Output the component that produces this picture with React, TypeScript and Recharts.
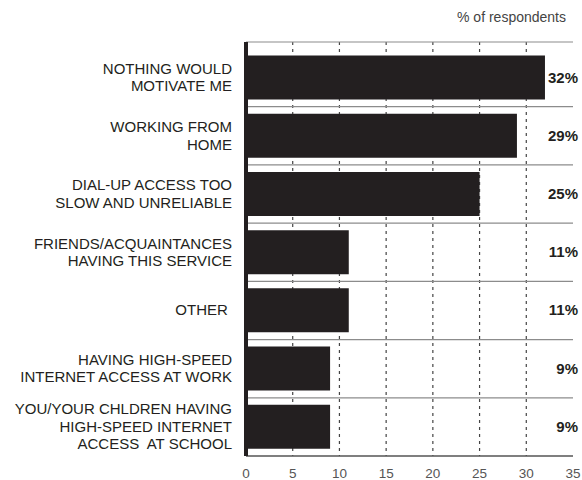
import { Bar, BarChart, CartesianGrid, XAxis, YAxis } from "recharts";

const categories = [
  "NOTHING WOULD\nMOTIVATE ME",
  "WORKING FROM\nHOME",
  "DIAL-UP ACCESS TOO\nSLOW AND UNRELIABLE",
  "FRIENDS/ACQUAINTANCES\nHAVING THIS SERVICE",
  "OTHER\u00a0",
  "HAVING HIGH-SPEED\nINTERNET ACCESS AT WORK",
  "YOU/YOUR CHLDREN HAVING\nHIGH-SPEED INTERNET\nACCESS\u00a0 AT SCHOOL",
];
const values = [32, 29, 25, 11, 11, 9, 9];
const xTicks = [0, 5, 10, 15, 20, 25, 30, 35];
const gridTicks = [5, 10, 15, 20, 25, 30];

const data = categories.map((category, i) => ({ category, value: values[i] }));

const FONT = "'Liberation Sans', Arial, Helvetica, sans-serif";
const BAR = "#231f20";
const PAD_TOP = 6.5;
const X_MAX = 35;

function CategoryTick({ x, y, payload }: any) {
  const lines = String(payload.value).split("\n");
  return (
    <text x={x} y={y} textAnchor="end" fill={BAR} fontSize={15} fontFamily={FONT}>
      {lines.map((line, i) => (
        <tspan key={i} x={x} y={y + (i - (lines.length - 1) / 2) * 17.5 + 5}>
          {line}
        </tspan>
      ))}
    </text>
  );
}

function ValueTick({ x, y, payload }: any) {
  return (
    <text x={x + 5} y={y + 5} textAnchor="end" fill={BAR} fontSize={15} fontWeight="bold" fontFamily={FONT}>
      {values[payload.index]}%
    </text>
  );
}

// separators sit on the band edges, plus the frame line on top
const separators = ({ offset }: any) => {
  const step = (offset.height - PAD_TOP) / categories.length;
  const lines = [offset.top];
  for (let i = 1; i < categories.length; i++) lines.push(offset.top + PAD_TOP + step * i);
  return lines;
};

// dotted verticals only at the inner ticks
const gridColumns = ({ xAxis, offset }: any) =>
  gridTicks.map((v) =>
    xAxis && typeof xAxis.scale === "function" ? xAxis.scale(v) : offset.left + (v / X_MAX) * offset.width
  );

export default function App() {
  return (
    <div style={{ position: "absolute", left: 0, top: 0, width: 582, height: 480, background: "#fff" }}>
      <div
        style={{
          position: "absolute",
          top: 9,
          right: 16,
          fontFamily: FONT,
          fontSize: 14,
          color: "#444",
        }}
      >
        % of respondents
      </div>
      <BarChart
        width={582}
        height={480}
        data={data}
        layout="vertical"
        margin={{ top: 42, right: 0, bottom: 0, left: 0 }}
      >
        <CartesianGrid
          horizontal={false}
          stroke="#444"
          strokeWidth={1.2}
          strokeDasharray="3 4"
          verticalCoordinatesGenerator={gridColumns}
        />
        <CartesianGrid
          vertical={false}
          stroke="#8c8c8c"
          strokeWidth={1.2}
          horizontalCoordinatesGenerator={separators}
        />
        <XAxis
          type="number"
          domain={[0, X_MAX]}
          ticks={xTicks}
          interval={0}
          height={24}
          tickLine={false}
          tickSize={0}
          tickMargin={12}
          axisLine={{ stroke: "#555", strokeWidth: 1.5 }}
          tick={{ fill: "#555", fontSize: 13.5, fontFamily: FONT }}
        />
        <YAxis
          type="category"
          dataKey="category"
          width={246}
          padding={{ top: PAD_TOP, bottom: 0 }}
          tickLine={false}
          tickSize={0}
          tickMargin={14}
          interval={0}
          axisLine={{ stroke: BAR, strokeWidth: 4 }}
          tick={<CategoryTick />}
        />
        <YAxis
          yAxisId="right"
          orientation="right"
          type="category"
          dataKey="category"
          width={9}
          padding={{ top: PAD_TOP, bottom: 0 }}
          tickLine={false}
          tickSize={0}
          tickMargin={0}
          interval={0}
          axisLine={false}
          tick={<ValueTick />}
        />
        <Bar dataKey="value" fill={BAR} barSize={44} isAnimationActive={false} />
      </BarChart>
    </div>
  );
}
